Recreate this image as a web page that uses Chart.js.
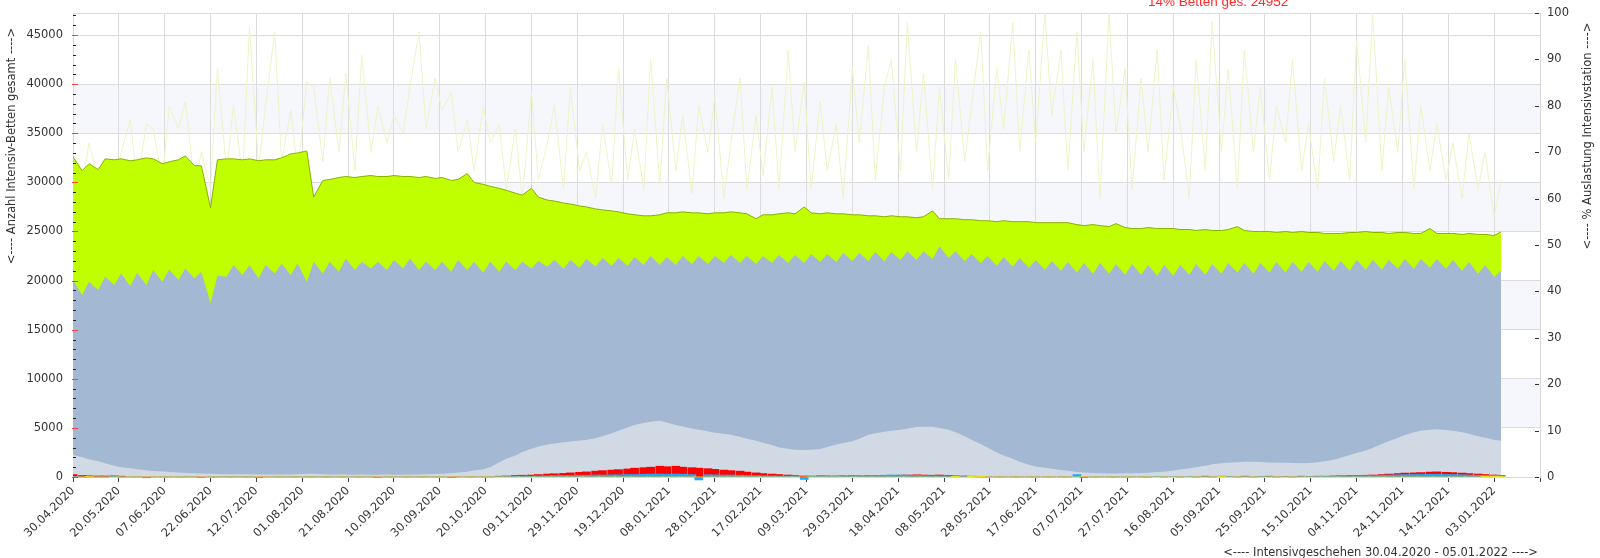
<!DOCTYPE html>
<html>
<head>
<meta charset="utf-8">
<title>Intensivgeschehen</title>
<script src="https://cdn.jsdelivr.net/npm/chart.js@4.4.1/dist/chart.umd.min.js"></script>
<style>
  html, body { margin: 0; padding: 0; background: #fff; }
  canvas { display: block; }
</style>
</head>
<body>
<canvas id="icuChart" width="1600" height="558"></canvas>
<script>
// tick labels of the x axis, one every 20 samples
const dateLabels = [
  "30.04.2020", "20.05.2020", "07.06.2020", "22.06.2020", "12.07.2020", "01.08.2020",
  "21.08.2020", "10.09.2020", "30.09.2020", "20.10.2020", "09.11.2020", "29.11.2020",
  "19.12.2020", "08.01.2021", "28.01.2021", "17.02.2021", "09.03.2021", "29.03.2021",
  "18.04.2021", "08.05.2021", "28.05.2021", "17.06.2021", "07.07.2021", "27.07.2021",
  "16.08.2021", "05.09.2021", "25.09.2021", "15.10.2021", "04.11.2021", "24.11.2021",
  "14.12.2021", "03.01.2022"
];

const headline = "14% Betten ges. 24952";

// values read every half week (179 samples)
const bedsTotal = [
  32600, 31200, 31900, 31300, 32400, 32300, 32400, 32200, 32300, 32500,
  32400, 31900, 32100, 32300, 32700, 31700, 31700, 27400, 32300, 32400,
  32400, 32300, 32400, 32200, 32300, 32300, 32500, 32900, 33000, 33200,
  28500, 30200, 30300, 30500, 30600, 30500, 30600, 30700, 30600, 30600,
  30700, 30600, 30600, 30500, 30600, 30400, 30500, 30200, 30300, 30900,
  30000, 29800, 29600, 29400, 29200, 28900, 28700, 29400, 28500, 28200,
  28100, 27900, 27800, 27600, 27500, 27300, 27200, 27100, 27000, 26800,
  26700, 26600, 26600, 26700, 26900, 26900, 27000, 26900, 26900, 26800,
  26900, 26900, 27000, 26900, 26800, 26300, 26700, 26700, 26800, 26900,
  26800, 27500, 26900, 26800, 26900, 26800, 26800, 26700, 26700, 26600,
  26600, 26500, 26600, 26500, 26500, 26400, 26500, 27100, 26300, 26300,
  26300, 26200, 26200, 26100, 26100, 26000, 26100, 26000, 26000, 26000,
  25900, 25900, 25900, 25900, 25900, 25700, 25600, 25700, 25600, 25500,
  25800, 25400, 25300, 25300, 25400, 25300, 25300, 25300, 25200, 25200,
  25100, 25200, 25100, 25100, 25200, 25500, 25100, 25000, 25000, 25000,
  24900, 25000, 24900, 25000, 24900, 24900, 24800, 24800, 24800, 24900,
  24900, 25000, 24900, 24900, 24800, 24900, 24900, 24800, 24800, 25300,
  24800, 24800, 24800, 24700, 24800, 24700, 24700, 24600, 24952
];

const bedsOccupied = [
  20050, 18530, 19880, 19040, 20390, 19550, 20730, 19450, 20800, 19550,
  21070, 19880, 21140, 20050, 21240, 20220, 20900, 17710, 20500, 20390,
  21580, 20560, 21580, 20220, 21580, 20730, 21750, 20560, 21750, 19880,
  21920, 20730, 21920, 20900, 22260, 21070, 21920, 21240, 21920, 21070,
  22090, 21240, 22260, 21070, 21920, 21070, 21920, 20900, 22090, 21070,
  21920, 20800, 21920, 20900, 21920, 21070, 21920, 21240, 22000, 21410,
  22090, 21200, 22100, 21300, 22200, 21400, 22300, 21500, 22300, 21500,
  22400, 21600, 22500, 21600, 22400, 21600, 22500, 21700, 22500, 21700,
  22500, 21800, 22600, 21800, 22500, 21700, 22500, 21800, 22600, 21800,
  22600, 21800, 22700, 21900, 22700, 21900, 22800, 22000, 22800, 22000,
  22900, 22000, 22900, 22100, 23000, 22100, 23000, 22200, 23500, 22300,
  23000, 22000, 22700, 21800, 22500, 21500, 22400, 21400, 22300, 21300,
  22100, 21100, 22000, 21000, 21900, 20800, 21800, 20700, 21800, 20700,
  21700, 20600, 21700, 20600, 21600, 20500, 21600, 20500, 21600, 20600,
  21700, 20600, 21700, 20700, 21800, 20800, 21800, 20700, 21800, 20800,
  21900, 20800, 21900, 20900, 21900, 20900, 22000, 21000, 22000, 21000,
  22100, 21100, 22100, 21100, 22100, 21200, 22200, 21200, 22200, 21300,
  22200, 21200, 22100, 21000, 21900, 20700, 21600, 20400, 21000
];

const covidPatients = [
  2240, 2000, 1800, 1600, 1400, 1150, 1000, 900, 780, 680,
  620, 560, 500, 450, 420, 380, 350, 320, 300, 290,
  280, 270, 270, 260, 260, 250, 260, 250, 270, 340,
  330, 280, 260, 250, 250, 240, 250, 240, 240, 250,
  240, 240, 250, 260, 280, 300, 330, 380, 450, 540,
  650, 800, 1000, 1500, 1850, 2200, 2550, 2880, 3100, 3300,
  3420, 3550, 3620, 3720, 3800, 3950, 4150, 4450, 4700, 5050,
  5300, 5500, 5630, 5730, 5550, 5300, 5150, 4950, 4800, 4650,
  4500, 4400, 4300, 4100, 3900, 3700, 3500, 3250, 3000, 2880,
  2780, 2750, 2780, 2850, 3050, 3300, 3450, 3650, 3900, 4300,
  4450, 4620, 4720, 4800, 4950, 5100, 5120, 5120, 5000, 4800,
  4550, 4150, 3800, 3350, 3000, 2500, 2200, 1850, 1550, 1250,
  1080, 940, 850, 720, 630, 520, 450, 400, 370, 360,
  360, 370, 370, 400, 440, 500, 540, 650, 760, 900,
  1000, 1150, 1300, 1400, 1450, 1500, 1550, 1560, 1520, 1480,
  1460, 1440, 1420, 1400, 1420, 1500, 1600, 1750, 1950, 2240,
  2450, 2700, 2950, 3350, 3650, 4000, 4250, 4550, 4700, 4820,
  4850, 4780, 4700, 4550, 4400, 4150, 4000, 3800, 3700
];

const loadPercent = [
  66, 63, 72, 64, 68, 62, 70, 77, 63, 76, 75, 64, 80, 75, 81, 63, 70, 62,
  88, 66, 80, 65, 97, 67, 80, 96, 68, 79, 66, 85, 84, 68, 86, 70, 87, 66,
  91, 70, 80, 72, 78, 74, 84, 96, 75, 86, 79, 83, 70, 77, 66, 80, 72, 76,
  62, 75, 60, 83, 64, 72, 80, 62, 84, 66, 70, 60, 76, 63, 88, 64, 75, 62,
  90, 63, 86, 66, 78, 61, 80, 70, 82, 60, 72, 86, 62, 78, 65, 84, 62, 92,
  70, 85, 62, 81, 66, 76, 60, 88, 72, 93, 64, 84, 90, 66, 98, 70, 87, 62,
  84, 64, 90, 68, 80, 96, 66, 88, 75, 98, 70, 92, 72, 100, 78, 92, 66, 96,
  70, 90, 60, 100, 74, 88, 62, 86, 70, 92, 64, 84, 76, 60, 90, 66, 98, 70,
  88, 62, 92, 70, 84, 64, 80, 72, 90, 66, 76, 62, 86, 68, 80, 64, 94, 72,
  100, 66, 84, 70, 90, 62, 80, 66, 76, 64, 72, 60, 74, 62, 70, 56, 64
];

const changeRed = [
  250, 150, 120, 100, 100, 60, 80, 0, 0, 0,
  0, 0, 0, 0, 0, 0, 0, 0, 0, 0,
  0, 0, 0, 0, 0, 0, 0, 0, 0, 0,
  0, 0, 0, 0, 0, 0, 0, 0, 0, 0,
  0, 0, 0, 0, 0, 0, 0, 0, 0, 0,
  0, 0, 0, 80, 100, 150, 180, 200, 250, 300,
  330, 370, 420, 480, 520, 600, 650, 700, 750, 820,
  900, 950, 1000, 1100, 1050, 1100, 1000, 950, 900, 850,
  780, 700, 650, 600, 500, 420, 350, 300, 250, 200,
  150, 100, 80, 120, 100, 80, 100, 120, 100, 130,
  120, 150, 150, 180, 200, 220, 200, 180, 200, 150,
  120, 100, 80, 50, 0, 0, 0, 0, 0, 0,
  0, 0, 0, 0, 0, 0, 0, 0, 0, 0,
  0, 0, 0, 0, 0, 0, 0, 0, 0, 0,
  0, 80, 0, 80, 60, 0, 80, 0, 60, 80,
  0, 60, 0, 80, 60, 80, 80, 100, 120, 150,
  150, 180, 200, 250, 300, 350, 400, 420, 450, 500,
  520, 480, 450, 400, 350, 300, 250, 200, 150
];

const changeBlue = [
  50, 0, 0, 0, 0, 150, 0, 0, 0, -80,
  0, 0, 0, 0, 0, 0, -50, 0, 0, 0,
  0, 0, 0, -60, 0, 0, 0, 0, 0, 0,
  0, 0, 0, 0, 0, 0, 0, 0, -50, 0,
  0, 0, 0, 0, 0, 0, 0, -60, 0, 0,
  0, 0, 0, 50, 60, 80, 100, 100, 120, 130,
  150, 150, 160, 180, 180, 200, 200, 220, 230, 250,
  250, 280, 300, 300, 280, 300, 280, 250, -300, 230,
  220, 200, 200, 180, 150, 150, 130, 120, 100, 100,
  100, -250, 100, 120, 100, 120, 150, 150, 150, 160,
  170, 180, 200, 200, 180, 170, 150, 130, 120, 100,
  80, 60, 50, 0, 0, 0, 0, 0, 0, 0,
  0, 0, 0, 0, 0, 250, -80, 0, 0, 0,
  0, 0, 0, 0, 0, 60, 0, 50, 0, 60,
  0, 50, 0, 50, 40, 0, 50, 0, 40, 50,
  0, 50, 0, 50, 60, 60, 70, 80, 100, 120,
  130, 150, 150, 180, 200, 220, 240, 250, 260, 270,
  280, 260, 250, 230, 200, 180, 150, 120, 100
];

const changeYellow = [
  0, 0, 60, 0, 0, 0, 0, 0, 0, 0,
  0, 0, 0, 0, 0, 0, 0, 0, 0, 0,
  0, 0, 0, 0, 0, 0, 0, 0, 0, 0,
  0, 0, 0, 0, 0, 0, 0, 0, 0, 0,
  0, 0, 0, 0, 0, 0, 0, 0, 0, 0,
  0, 0, 0, 0, 0, 0, 0, 0, 0, 0,
  0, 0, 0, 0, 0, 0, 0, 0, 0, 0,
  0, 0, 0, 0, 0, 0, 0, 0, 0, 0,
  0, 0, 0, 0, 0, 0, 0, 0, 0, 0,
  0, 0, 0, 0, 0, 0, 0, 0, 0, 0,
  0, 0, 0, 0, 0, 0, 0, 0, 0, 0,
  80, 0, 100, 80, 0, 0, 0, 0, 0, 0,
  0, 0, 0, 0, 0, 0, 0, 0, 0, 0,
  0, 0, 0, 0, 0, 0, 0, 0, 0, 0,
  0, 0, 0, 60, 0, 0, 0, 0, 0, 0,
  0, 0, 0, 0, 0, 0, 0, 0, 0, 0,
  0, 0, 0, 0, 0, 0, 0, 0, 0, 0,
  0, 0, 0, 0, 0, 0, 80, 100, 80
];

// sample position on the day axis (half-week steps)
const sampleDay = bedsTotal.map((_, k) => Math.round(k * 3.5));
const points = (values) => values.map((v, k) => ({ x: sampleDay[k], y: v }));

const FONT = "DejaVu Sans";
Chart.defaults.font.family = FONT;
Chart.defaults.font.size = 11.5;
Chart.defaults.color = "#333";

// light horizontal bands behind the plot
const backdrop = {
  id: "backdrop",
  beforeDraw(chart) {
    const { ctx, chartArea: a, scales } = chart;
    const y = scales.y;
    ctx.save();
    ctx.fillStyle = "#f6f7fc";
    [[5000, 10000], [15000, 20000], [25000, 30000], [35000, 40000]].forEach(([lo, hi]) => {
      const top = y.getPixelForValue(hi);
      const bot = y.getPixelForValue(lo);
      ctx.fillRect(a.left, top, a.right - a.left, bot - top);
    });
    ctx.strokeStyle = "#dcdcdc";
    ctx.lineWidth = 1;
    ctx.beginPath();
    ctx.moveTo(a.left, a.top + 0.5);
    ctx.lineTo(a.right, a.top + 0.5);
    ctx.stroke();
    ctx.restore();
  }
};

// y tick marks sit inside the plot area
const innerTicks = {
  id: "innerTicks",
  afterDatasetsDraw(chart) {
    const { ctx, chartArea: a, scales } = chart;
    ctx.save();
    ctx.lineWidth = 1;
    scales.y.ticks.forEach((t) => {
      const py = Math.round(scales.y.getPixelForValue(t.value)) + 0.5;
      const major = t.value % 5000 === 0;
      ctx.strokeStyle = major ? "#ff3b3b" : "#222";
      ctx.beginPath();
      ctx.moveTo(a.left - (major ? 1 : 0), py);
      ctx.lineTo(a.left + (major ? 5 : 3), py);
      ctx.stroke();
    });
    scales.y1.ticks.forEach((t) => {
      const py = Math.round(scales.y1.getPixelForValue(t.value)) + 0.5;
      ctx.strokeStyle = "#333";
      ctx.beginPath();
      ctx.moveTo(a.right - 5, py);
      ctx.lineTo(a.right - 1, py);
      ctx.stroke();
    });
    ctx.restore();
  }
};

// axis titles and the red headline
const titles = {
  id: "titles",
  afterDraw(chart) {
    const { ctx, chartArea: a } = chart;
    ctx.save();
    ctx.fillStyle = "#333";
    ctx.font = "11.5px '" + FONT + "'";
    ctx.textBaseline = "middle";

    ctx.save();
    ctx.translate(12, 146);
    ctx.rotate(-Math.PI / 2);
    ctx.textAlign = "center";
    ctx.fillText("<---- Anzahl Intensiv-Betten gesamt ---->", 0, 0);
    ctx.restore();

    ctx.save();
    ctx.translate(1588, 136);
    ctx.rotate(-Math.PI / 2);
    ctx.textAlign = "center";
    ctx.fillText("<---- % Auslastung Intensivstation ---->", 0, 0);
    ctx.restore();

    ctx.textAlign = "right";
    ctx.fillText("<---- Intensivgeschehen 30.04.2020 - 05.01.2022 ---->", a.right - 2, 553);

    ctx.fillStyle = "#ff2a2a";
    ctx.font = "13.5px 'Liberation Sans'";
    ctx.textAlign = "left";
    ctx.textBaseline = "alphabetic";
    ctx.fillText(headline, 1148, 6);
    ctx.restore();
  }
};

// left axis: a tick every 1000 beds, labelled every 5000
const bedTickValues = Array.from({ length: 48 }, (_, i) => i * 1000);

// fixed axis boxes, so the plot area matches the original frame
const fixVertical = (width) => (s) => {
  s.width = width;
  s.paddingTop = 0;
  s.paddingBottom = 0;
};

const ctx = document.getElementById("icuChart");
new Chart(ctx, {
  type: "line",
  data: {
    datasets: [
      {
        label: "% Auslastung",
        data: points(loadPercent),
        yAxisID: "y1",
        borderColor: "#eef4c6",
        borderWidth: 1,
        pointRadius: 0,
        fill: false,
        order: 7,
      },
      {
        label: "Betten gesamt",
        data: points(bedsTotal),
        yAxisID: "y",
        borderColor: "#8caf00",
        borderWidth: 1,
        backgroundColor: "#bfff00",
        fill: "origin",
        pointRadius: 0,
        order: 6,
      },
      {
        label: "Betten belegt",
        data: points(bedsOccupied),
        yAxisID: "y",
        borderColor: "rgba(0,0,0,0)",
        borderWidth: 0,
        backgroundColor: "#a3b8d3",
        fill: "origin",
        pointRadius: 0,
        order: 5,
      },
      {
        label: "COVID-19 Patienten",
        data: points(covidPatients),
        yAxisID: "y",
        borderColor: "rgba(0,0,0,0)",
        borderWidth: 0,
        backgroundColor: "#d0d9e4",
        fill: "origin",
        pointRadius: 0,
        order: 4,
      },
      {
        type: "bar",
        label: "Zugang",
        data: points(changeRed),
        yAxisID: "y",
        backgroundColor: "#ff0000",
        grouped: false,
        barThickness: 8,
        order: 3,
      },
      {
        type: "bar",
        label: "Invasiv",
        data: points(changeBlue),
        yAxisID: "y",
        backgroundColor: "#1ea9ff",
        grouped: false,
        barThickness: 8,
        clip: { left: 0, top: 0, right: 0, bottom: 8 },
        order: 2,
      },
      {
        type: "bar",
        label: "Sonstige",
        data: points(changeYellow),
        yAxisID: "y",
        backgroundColor: "#ffee00",
        grouped: false,
        barThickness: 8,
        order: 1,
      },
    ],
  },
  options: {
    responsive: false,
    animation: false,
    devicePixelRatio: 1,
    layout: { autoPadding: false, padding: { top: 13, left: 0, right: 0, bottom: 0 } },
    plugins: {
      legend: { display: false },
      tooltip: { enabled: false },
    },
    scales: {
      x: {
        type: "linear",
        min: 0,
        max: 640,
        offset: false,
        afterFit: (s) => { s.height = 81; },
        ticks: {
          stepSize: 20,
          autoSkip: false,
          minRotation: 45,
          maxRotation: 45,
          padding: 2,
          callback: (v) => dateLabels[v / 20] || "",
        },
        grid: {
          offset: false,
          color: "#dcdcdc",
          tickColor: "#444",
          tickLength: 5,
        },
        border: { color: "#d8d8d8" },
      },
      y: {
        position: "left",
        min: 0,
        max: 47250,
        afterFit: fixVertical(73),
        afterBuildTicks: (s) => { s.ticks = bedTickValues.map((v) => ({ value: v })); },
        ticks: {
          autoSkip: false,
          padding: 10,
          callback: (v) => (v % 5000 === 0 ? String(v) : ""),
        },
        grid: {
          drawTicks: false,
          color: (c) => (c.tick && c.tick.value % 5000 === 0 && c.tick.value > 0 ? "#dcdcdc" : "rgba(0,0,0,0)"),
        },
        border: { color: "#d8d8d8" },
      },
      y1: {
        position: "right",
        min: 0,
        max: 100,
        afterFit: fixVertical(60),
        ticks: {
          stepSize: 10,
          autoSkip: false,
          padding: 7,
        },
        grid: {
          drawOnChartArea: false,
          drawTicks: false,
        },
        border: { color: "#d8d8d8" },
      },
    },
  },
  plugins: [backdrop, innerTicks, titles],
});
</script>
</body>
</html>
